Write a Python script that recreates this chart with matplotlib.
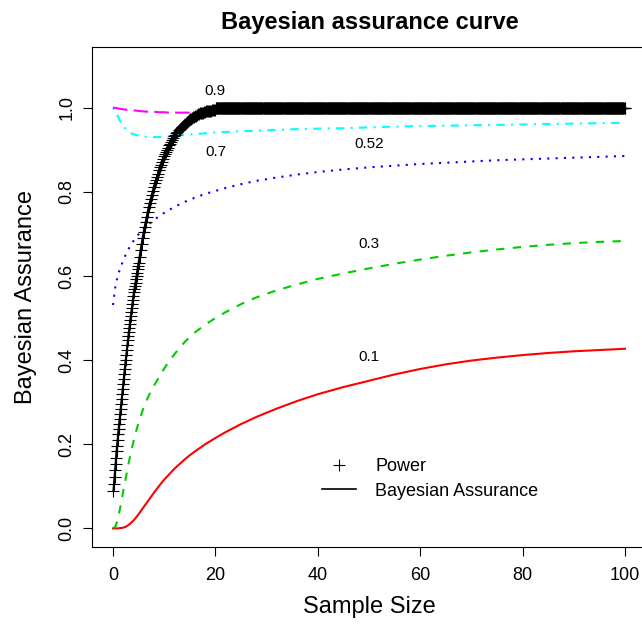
import numpy as np
import matplotlib
matplotlib.use("Agg")
import matplotlib.pyplot as plt
from matplotlib.lines import Line2D

plt.rcParams["font.family"] = ["Liberation Sans", "DejaVu Sans"]

# Power curve
n_power_a = np.round(np.arange(0.1, 5.01, 0.1), 1)
power_a = [
    0.090, 0.106, 0.122, 0.138, 0.153, 0.168, 0.183, 0.197, 0.211, 0.224,
    0.236, 0.248, 0.260, 0.272, 0.284, 0.296, 0.308, 0.320, 0.332, 0.344,
    0.355, 0.367, 0.378, 0.390, 0.401, 0.413, 0.424, 0.436, 0.447, 0.458,
    0.468, 0.477, 0.487, 0.496, 0.506, 0.515, 0.525, 0.534, 0.544, 0.553,
    0.561, 0.569, 0.577, 0.584, 0.592, 0.600, 0.608, 0.616, 0.623, 0.631,
]
n_power_b = np.round(np.arange(5.2, 20.01, 0.2), 1)
power_b = [
    0.646, 0.661, 0.675, 0.690, 0.705,
    0.717, 0.729, 0.741, 0.753, 0.765,
    0.774, 0.784, 0.793, 0.803, 0.812,
    0.820, 0.828, 0.835, 0.843, 0.851,
    0.858, 0.864, 0.871, 0.877, 0.884,
    0.889, 0.894, 0.900, 0.905, 0.910,
    0.914, 0.919, 0.923, 0.928, 0.932,
    0.935, 0.939, 0.942, 0.946, 0.949,
    0.952, 0.954, 0.957, 0.959, 0.962,
    0.964, 0.966, 0.968, 0.970, 0.972,
    0.974, 0.975, 0.977, 0.978, 0.980,
    0.981, 0.982, 0.984, 0.985, 0.986,
    0.987, 0.988, 0.988, 0.989, 0.990,
    0.991, 0.991, 0.992, 0.992, 0.993,
    0.993, 0.994, 0.994, 0.995, 0.995,
]
n_power_c = np.round(np.arange(20.1, 100.01, 0.1), 1)
power_c = [1.0] * len(n_power_c)

# Bayesian assurance curves
n_assur = [0, 0.5, 1, 1.5, 2, 2.5, 3, 3.5, 4, 4.5, 5, 6, 7, 8, 9, 10, 11, 12, 13, 14,
           15, 16, 18, 20, 22, 25, 28, 32, 36, 40, 45, 50, 55, 60, 65, 70, 75, 80,
           85, 90, 95, 100]
assur_01 = [0.0, 0.0, 0.0003, 0.001, 0.002, 0.004, 0.008, 0.013, 0.019, 0.026,
            0.034, 0.051, 0.068, 0.085, 0.101, 0.116, 0.129, 0.142, 0.153, 0.164,
            0.174, 0.183, 0.200, 0.215, 0.229, 0.248, 0.265, 0.285, 0.303, 0.319,
            0.336, 0.351, 0.366, 0.379, 0.390, 0.399, 0.406, 0.412, 0.417, 0.421,
            0.424, 0.427]
assur_03 = [0.0, 0.005, 0.025, 0.055, 0.088, 0.120, 0.152, 0.180, 0.206, 0.230,
            0.252, 0.288, 0.316, 0.339, 0.360, 0.380, 0.398, 0.414, 0.429, 0.443,
            0.455, 0.466, 0.484, 0.500, 0.514, 0.533, 0.549, 0.566, 0.580, 0.593,
            0.606, 0.618, 0.629, 0.639, 0.648, 0.656, 0.663, 0.669, 0.674, 0.678,
            0.681, 0.683]
assur_052 = [0.531, 0.578, 0.603, 0.621, 0.637, 0.651, 0.663, 0.674, 0.683, 0.692,
             0.699, 0.712, 0.723, 0.733, 0.742, 0.750, 0.757, 0.764, 0.770, 0.776,
             0.781, 0.786, 0.795, 0.802, 0.809, 0.818, 0.826, 0.834, 0.841, 0.847,
             0.853, 0.858, 0.862, 0.866, 0.869, 0.872, 0.875, 0.877, 0.879, 0.881,
             0.883, 0.885]
assur_07 = [1.0, 0.990, 0.978, 0.966, 0.956, 0.949, 0.944, 0.940, 0.937, 0.935,
            0.933, 0.931, 0.930, 0.930, 0.930, 0.931, 0.932, 0.933, 0.934, 0.935,
            0.936, 0.937, 0.939, 0.941, 0.942, 0.944, 0.945, 0.947, 0.949, 0.950,
            0.951, 0.953, 0.955, 0.956, 0.957, 0.958, 0.959, 0.960, 0.961, 0.962,
            0.963, 0.964]
assur_09 = [1.0, 0.999, 0.998, 0.997, 0.996, 0.995, 0.994, 0.994, 0.993, 0.993,
            0.992, 0.991, 0.990, 0.990, 0.989, 0.989, 0.988, 0.988, 0.988, 0.988,
            0.988, 0.989, 0.989, 0.990, 0.990, 0.991, 0.992, 0.992, 0.993, 0.993,
            0.994, 0.994, 0.994, 0.995, 0.995, 0.995, 0.995, 0.996, 0.996, 0.996,
            0.996, 0.996]

curve_labels = ["0.1", "0.3", "0.52", "0.7", "0.9"]
label_x = [50, 50, 50, 20, 20]
label_y = [0.407, 0.677, 0.914, 0.894, 1.039]

fig = plt.figure(figsize=(6.42, 6.28), dpi=100)
ax = fig.add_axes([92.5 / 642, 81 / 628, 553 / 642, 500 / 628])

styles = [
    ("#FF0000", "-"),
    ("#00CD00", (0, (4, 4))),
    ("#0000FF", (0, (1, 3))),
    ("#00FFFF", (0, (1, 3, 4, 3))),
    ("#FF00FF", (0, (7, 3))),
]
for ys, (col, ls) in zip([assur_01, assur_03, assur_052, assur_07, assur_09], styles):
    ax.plot(n_assur, ys, color=col, linestyle=ls, lw=1.5)

n_power = np.concatenate([n_power_a, n_power_b, n_power_c])
power = np.concatenate([power_a, power_b, power_c])
ax.plot(n_power, power, color="black", lw=1.5)
ax.plot(n_power, power, linestyle="none", marker="+", ms=8, mew=0.8, color="black")

for lab, x, y in zip(curve_labels, label_x, label_y):
    ax.text(x, y, lab, ha="center", va="center", fontsize=11)

ax.set_xlim(-4, 104)
ax.set_ylim(-0.044, 1.144)
ax.set_xticks([0, 20, 40, 60, 80, 100])
ax.set_yticks([0, 0.2, 0.4, 0.6, 0.8, 1.0])
ax.set_yticklabels(["0.0", "0.2", "0.4", "0.6", "0.8", "1.0"], rotation=90, va="center")
ax.tick_params(direction="out", length=6.5, width=0.8, labelsize=13, pad=6)
ax.tick_params(axis="x", pad=8)
for s in ax.spines.values():
    s.set_linewidth(0.8)

ax.set_xlabel("Sample Size", fontsize=17)
ax.set_ylabel("Bayesian Assurance", fontsize=17)
ax.xaxis.set_label_coords(0.5, -0.12)
ax.xaxis.label.set_va("center")
ax.yaxis.set_label_coords(-0.12, 0.5)
ax.yaxis.label.set_va("center")
ax.text(0.502, 1.05, "Bayesian assurance curve", transform=ax.transAxes,
        ha="center", va="center", fontsize=17, fontweight="bold")

handles = [
    Line2D([], [], color="black", marker="+", linestyle="none", ms=8, mew=0.8),
    Line2D([], [], color="black", lw=1.2),
]
ax.legend(handles, ["Power", "Bayesian Assurance"], frameon=False, fontsize=13,
          loc="upper left", bbox_to_anchor=(322 / 642, 1 - 458 / 628),
          bbox_transform=fig.transFigure, borderpad=0, borderaxespad=0,
          handlelength=1.9, handletextpad=1.05, labelspacing=0.42)

fig.savefig("out.png", dpi=100)
